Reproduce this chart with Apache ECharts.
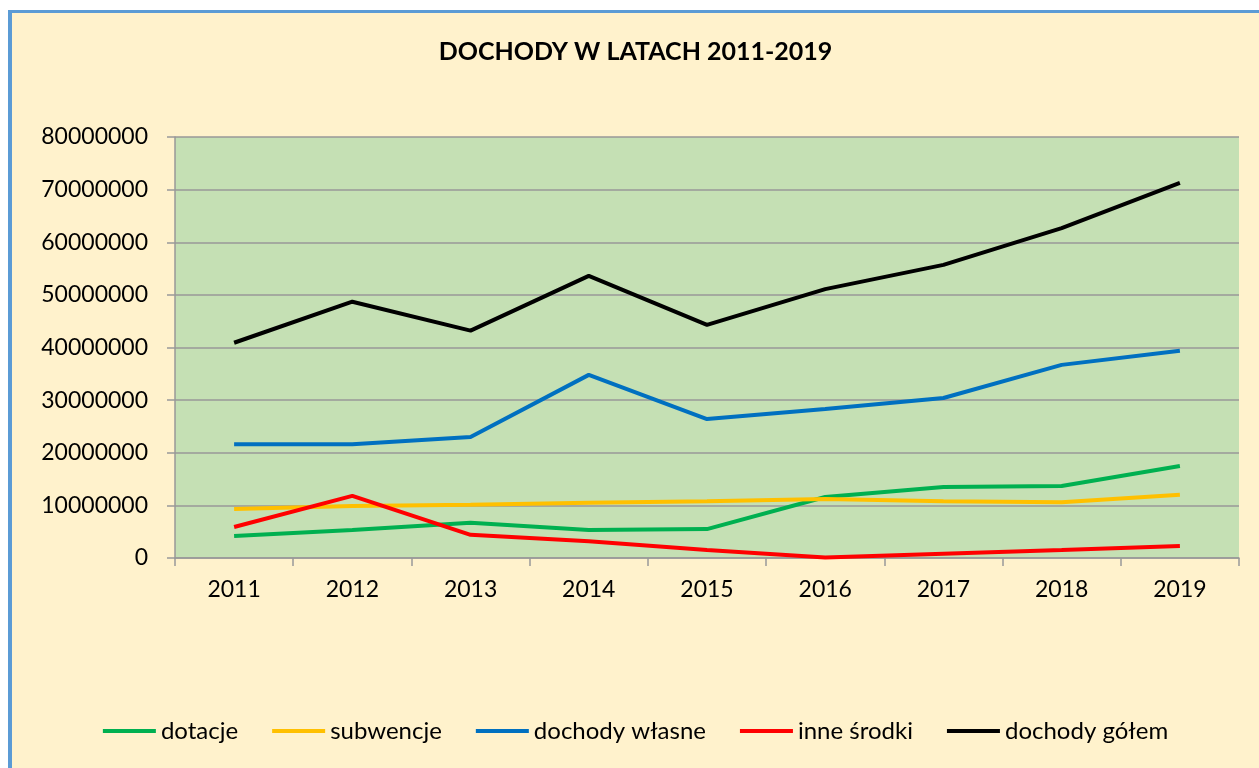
<!DOCTYPE html>
<html>
<head>
<meta charset="utf-8">
<title>Dochody w latach 2011-2019</title>
<script src="https://cdn.jsdelivr.net/npm/echarts@6/dist/echarts.min.js"></script>
<style>
  html, body { margin: 0; padding: 0; background: #ffffff; }
  #frame {
    position: absolute; left: 8px; top: 10px; width: 1247px; height: 755px;
    border-left: 4px solid #5B9BD5; border-top: 3px solid #5B9BD5;
    background: #FFF2CC;
  }
  #main { width: 1247px; height: 755px; }
</style>
</head>
<body>
<div id="frame"><div id="main"></div></div>
<script>
// lata i serie
var years = ['2011', '2012', '2013', '2014', '2015', '2016', '2017', '2018', '2019'];
var dotacje = [4200000, 5300000, 6700000, 5300000, 5500000, 11600000, 13500000, 13700000, 17500000];
var subwencje = [9300000, 9900000, 10100000, 10500000, 10800000, 11200000, 10800000, 10600000, 12000000];
var dochodyWlasne = [21600000, 21600000, 23000000, 34800000, 26400000, 28300000, 30400000, 36700000, 39400000];
var inneSrodki = [5900000, 11800000, 4400000, 3200000, 1500000, 100000, 800000, 1500000, 2300000];
var dochodyOgolem = [40900000, 48700000, 43200000, 53600000, 44300000, 51100000, 55700000, 62700000, 71300000];

var font = 'Lato, "Open Sans", sans-serif';

function line(name, data, color) {
  return {
    name: name,
    type: 'line',
    data: data,
    symbol: 'none',
    lineStyle: { color: color, width: 4 },
    itemStyle: { color: color }
  };
}

var myChart = echarts.init(document.getElementById('main'));
var options = {
  animation: false,
  title: {
    text: 'DOCHODY W LATACH 2011-2019',
    left: 'center',
    top: 21,
    textStyle: { fontFamily: font, fontSize: 25, fontWeight: 'bold', color: '#000' }
  },
  grid: {
    left: 163, right: 20, top: 124, bottom: 210,
    show: true, backgroundColor: '#C5E0B4', borderWidth: 0
  },
  legend: {
    bottom: 20,
    left: 'center',
    icon: 'rect',
    itemWidth: 53,
    itemHeight: 4,
    itemGap: 34,
    textStyle: { fontFamily: font, fontSize: 24, color: '#000', padding: [0, 0, 0, 0] }
  },
  xAxis: {
    type: 'category',
    data: years,
    boundaryGap: true,
    axisLine: { lineStyle: { color: '#999', width: 1.5 } },
    axisTick: { show: true, length: 8, lineStyle: { color: '#999', width: 1.5 } },
    axisLabel: { fontFamily: font, fontSize: 23, color: '#000', margin: 20 }
  },
  yAxis: {
    type: 'value',
    min: 0,
    max: 80000000,
    interval: 10000000,
    axisLine: { show: true, lineStyle: { color: '#999', width: 1.5 } },
    axisTick: { show: true, length: 8, lineStyle: { color: '#999', width: 1.5 } },
    splitLine: { lineStyle: { color: '#999', width: 1.5 } },
    axisLabel: {
      fontFamily: font, fontSize: 23, color: '#000', margin: 27,
      formatter: function (v) { return String(v); }
    }
  },
  series: [
    line('dotacje', dotacje, '#00B050'),
    line('subwencje', subwencje, '#FFC000'),
    line('dochody własne', dochodyWlasne, '#0070C0'),
    line('inne środki', inneSrodki, '#FF0000'),
    line('dochody gółem', dochodyOgolem, '#000000')
  ]
};
myChart.setOption(options);
</script>
</body>
</html>
